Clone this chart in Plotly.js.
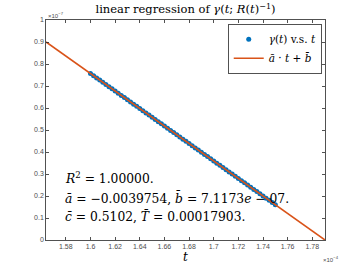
<!DOCTYPE html>
<html>
<head>
<meta charset="utf-8">
<script src="https://cdn.plot.ly/plotly-3.0.1.min.js"></script>
<style>html,body{margin:0;padding:0;background:#fff;}#chart{width:360px;height:270px;}</style>
</head>
<body>
<div id="chart"></div>
<script>
// t in units of 1e-4, gamma in units of 1e-7
var tValues = [1.6000,1.6025,1.6050,1.6075,1.6100,1.6125,1.6150,1.6175,1.6200,1.6225,
  1.6250,1.6275,1.6300,1.6325,1.6350,1.6375,1.6400,1.6425,1.6450,1.6475,
  1.6500,1.6525,1.6550,1.6575,1.6600,1.6625,1.6650,1.6675,1.6700,1.6725,
  1.6750,1.6775,1.6800,1.6825,1.6850,1.6875,1.6900,1.6925,1.6950,1.6975,
  1.7000,1.7025,1.7050,1.7075,1.7100,1.7125,1.7150,1.7175,1.7200,1.7225,
  1.7250,1.7275,1.7300,1.7325,1.7350,1.7375,1.7400,1.7425,1.7450,1.7475,1.7500];
var gammaValues = [0.75666,0.74672,0.73678,0.72684,0.71691,0.70697,0.69703,0.68709,0.67715,0.66721,
  0.65727,0.64734,0.63740,0.62746,0.61752,0.60758,0.59764,0.58770,0.57776,0.56782,
  0.55789,0.54795,0.53801,0.52807,0.51813,0.50820,0.49826,0.48832,0.47838,0.46844,
  0.45850,0.44856,0.43863,0.42869,0.41875,0.40881,0.39887,0.38893,0.37899,0.36906,
  0.35912,0.34918,0.33924,0.32930,0.31936,0.30943,0.29949,0.28955,0.27961,0.26967,
  0.25973,0.24980,0.23986,0.22992,0.21998,0.21004,0.20010,0.19016,0.18023,0.17029,0.16035];
var fitT = [1.5639, 1.7903];
var fitY = [0.9000, 0.0000];
var xTickStart = 1.58, xTickStep = 0.02;
var yTickStart = 0, yTickStep = 0.1;

var serif = 'DejaVu Serif, Liberation Serif, serif';
var sans = 'Liberation Sans, Arial, sans-serif';
var axisColor = '#262626';

var traces = [
  {x: tValues, y: gammaValues, type: 'scatter', mode: 'markers',
   name: '<i>γ</i>(<i>t</i>) v.s. <i>t</i>',
   marker: {color: '#0072BD', size: 5}},
  {x: fitT, y: fitY, type: 'scatter', mode: 'lines',
   name: '<i>a\u0304</i> · <i>t</i> + <i>b\u0304</i>',
   line: {color: '#D95319', width: 1.6}}
];

var axisCommon = {
  showgrid: false, zeroline: false, showline: true, linecolor: axisColor, linewidth: 0.8,
  mirror: 'ticks', ticks: 'inside', ticklen: 3, tickcolor: axisColor, tickwidth: 0.8,
  tickfont: {family: sans, size: 7, color: '#4d4d4d'}
};

var layout = {
  width: 360, height: 270,
  margin: {l: 46, r: 35, t: 20, b: 30},
  paper_bgcolor: '#fff', plot_bgcolor: '#fff',
  showlegend: true,
  title: {text: 'linear regression of <i>γ</i>(<i>t</i>; <i>R</i>(<i>t</i>)<sup>−1</sup>)',
    font: {family: serif, size: 11.5, color: '#000'},
    x: 0.5153, xanchor: 'center', y: 0.965, yanchor: 'middle'},
  xaxis: Object.assign({}, axisCommon, {range: [fitT[0], fitT[1]], tick0: xTickStart, dtick: xTickStep,
    title: {text: '<i>t</i>', font: {family: serif, size: 12, color: '#000'}, standoff: 3}}),
  yaxis: Object.assign({}, axisCommon, {range: [0, 1], tick0: yTickStart, dtick: yTickStep}),
  legend: {x: 0.989, xanchor: 'right', y: 0.982, yanchor: 'top',
    bgcolor: '#fff', bordercolor: axisColor, borderwidth: 0.8,
    font: {family: serif, size: 10.5, color: '#000'},
    itemwidth: 30, tracegroupgap: 0},
  annotations: [
    {xref: 'paper', yref: 'paper', x: 0, y: 1, xanchor: 'left', yanchor: 'bottom', showarrow: false,
     text: '×10<sup>−7</sup>', font: {family: sans, size: 6, color: '#4d4d4d'}, yshift: -1},
    {xref: 'paper', yref: 'paper', x: 1, y: 0, xanchor: 'center', yanchor: 'top', showarrow: false,
     text: '×10<sup>−4</sup>', font: {family: sans, size: 6, color: '#4d4d4d'}, xshift: 6, yshift: -13},
    {xref: 'paper', yref: 'paper', x: 0.061, y: 0.282, xanchor: 'left', yanchor: 'middle', showarrow: false,
     text: '<i>R</i><sup>2</sup> = 1.00000.', font: {family: serif, size: 12.3, color: '#000'}},
    {xref: 'paper', yref: 'paper', x: 0.061, y: 0.191, xanchor: 'left', yanchor: 'middle', showarrow: false,
     text: '<i>a\u0304</i> = −0.0039754, <i>b\u0304</i> = 7.1173<i>e</i> − 07.', font: {family: serif, size: 12.3, color: '#000'}},
    {xref: 'paper', yref: 'paper', x: 0.061, y: 0.109, xanchor: 'left', yanchor: 'middle', showarrow: false,
     text: '<i>c\u0304</i> = 0.5102, <i>T\u0304</i> = 0.00017903.', font: {family: serif, size: 12.3, color: '#000'}}
  ]
};

Plotly.newPlot('chart', traces, layout, {staticPlot: true, displayModeBar: false});
</script>
</body>
</html>
